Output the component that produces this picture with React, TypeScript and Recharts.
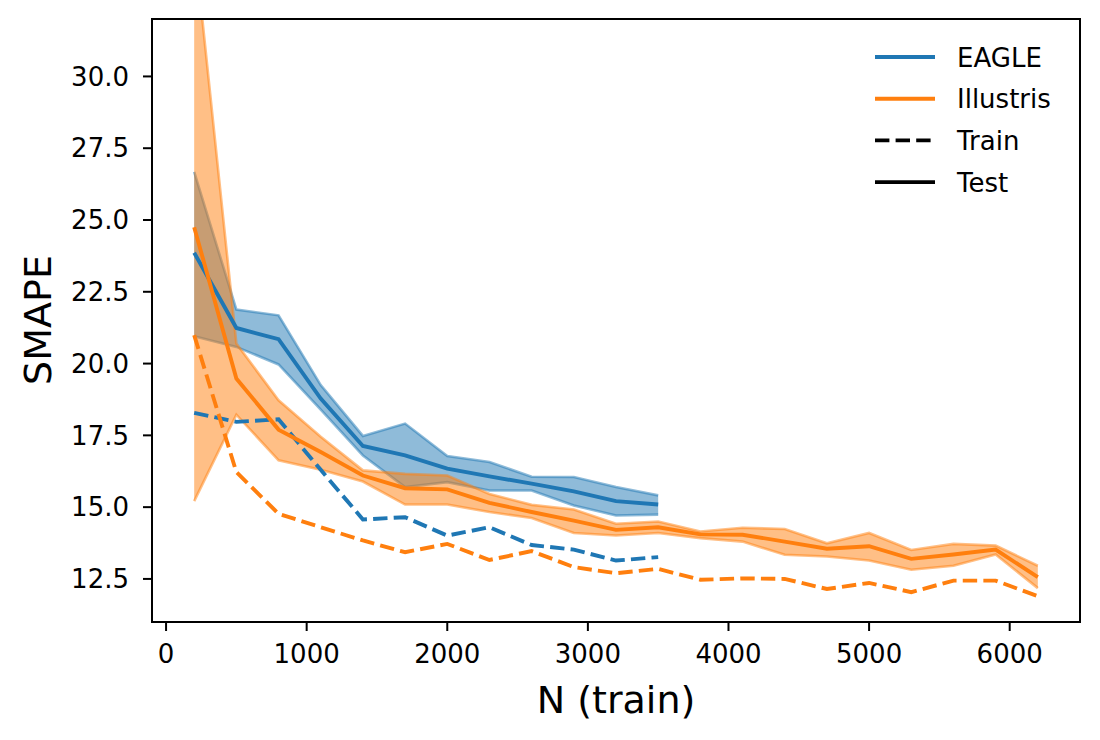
import React from "react";
import { ComposedChart, Area, Line, XAxis, YAxis, Label, ReferenceArea } from "recharts";

const nTrain = [200, 500, 800, 1100, 1400, 1700, 2000, 2300, 2600, 2900, 3200, 3500, 3800, 4100, 4400, 4700, 5000, 5300, 5600, 5900, 6200];

// EAGLE stops at 3500
const eagleTest = [23.86, 21.24, 20.85, 18.78, 17.13, 16.8, 16.34, 16.07, 15.82, 15.55, 15.21, 15.09];
const eagleTestHi = [26.68, 21.88, 21.68, 19.25, 17.48, 17.91, 16.78, 16.57, 16.06, 16.05, 15.7, 15.41];
const eagleTestLo = [20.95, 20.58, 19.97, 18.4, 16.8, 15.7, 15.87, 15.58, 15.58, 15.06, 14.71, 14.74];
const eagleTrain = [18.28, 17.97, 18.06, 16.3, 14.57, 14.65, 14.01, 14.3, 13.68, 13.52, 13.14, 13.26];

const illustrisTest = [24.75, 19.48, 17.7, 16.92, 16.1, 15.66, 15.62, 15.15, 14.83, 14.53, 14.21, 14.3, 14.05, 14.04, 13.8, 13.55, 13.64, 13.2, 13.35, 13.52, 12.56];
const illustrisTestHi = [34.7, 20.7, 18.72, 17.45, 16.28, 16.16, 16.1, 15.46, 15.08, 14.92, 14.42, 14.5, 14.15, 14.28, 14.24, 13.74, 14.1, 13.51, 13.72, 13.66, 12.96];
const illustrisTestLo = [15.21, 18.22, 16.63, 16.3, 15.89, 15.09, 15.09, 14.83, 14.62, 14.1, 14.01, 14.1, 13.92, 13.8, 13.34, 13.28, 13.14, 12.82, 12.96, 13.35, 12.18];
const illustrisTrain = [20.99, 16.22, 14.77, 14.3, 13.84, 13.43, 13.72, 13.16, 13.47, 12.91, 12.7, 12.85, 12.47, 12.52, 12.5, 12.15, 12.36, 12.04, 12.44, 12.44, 11.9];

const xTicks = [0, 1000, 2000, 3000, 4000, 5000, 6000];
const yTicks = [12.5, 15, 17.5, 20, 22.5, 25, 27.5, 30];
const xDomain = [-100, 6500];
const yDomain = [11, 32];

const BLUE = "#1f77b4";
const ORANGE = "#ff7f0e";
const FONT = "'DejaVu Sans', sans-serif";

const legendItems = [
  { label: "EAGLE", color: BLUE, dashed: false },
  { label: "Illustris", color: ORANGE, dashed: false },
  { label: "Train", color: "#000", dashed: true },
  { label: "Test", color: "#000", dashed: false },
];

const data = nTrain.map((n, i) => ({
  n,
  eagleTest: eagleTest[i],
  eagleTrain: eagleTrain[i],
  eagleBand: i < eagleTest.length ? [eagleTestLo[i], eagleTestHi[i]] : undefined,
  illustrisTest: illustrisTest[i],
  illustrisTrain: illustrisTrain[i],
  illustrisBand: [illustrisTestLo[i], illustrisTestHi[i]],
}));

const dash = "14.4 6.2";
const lineW = 3.9;
const tickStyle = { fill: "#000", fontSize: 26, fontFamily: FONT };
const axisStroke = { stroke: "#000", strokeWidth: 2 };

const App = () => {
  return (
    <div style={{ position: "absolute", left: 0, top: 0, width: 1100, height: 740, background: "#fff", fontFamily: FONT }}>
      <ComposedChart width={1100} height={740} data={data} margin={{ top: 19, right: 20, bottom: 0, left: 0 }}>
        <XAxis
          dataKey="n"
          type="number"
          domain={xDomain}
          allowDataOverflow
          ticks={xTicks}
          interval={0}
          height={118}
          tick={tickStyle}
          tickSize={9}
          tickMargin={14}
          tickLine={axisStroke}
          axisLine={axisStroke}
        >
          <Label value="N (train)" position="insideBottom" offset={27} style={{ fill: "#000", fontSize: 38, fontFamily: FONT }} />
        </XAxis>
        <YAxis
          type="number"
          domain={yDomain}
          allowDataOverflow
          ticks={yTicks}
          interval={0}
          width={152}
          tick={tickStyle}
          tickSize={9}
          tickMargin={14}
          tickLine={axisStroke}
          axisLine={axisStroke}
          tickFormatter={(v: number) => v.toFixed(1)}
        >
          <Label
            content={() => (
              <text x={51} y={320} transform="rotate(-90 51 320)" textAnchor="middle" fill="#000" fontSize={38} fontFamily={FONT}>
                SMAPE
              </text>
            )}
          />
        </YAxis>

        <Area dataKey="eagleBand" type="linear" fill={BLUE} fillOpacity={0.5} stroke={BLUE} strokeOpacity={0.5} strokeWidth={2.6} dot={false} activeDot={false} isAnimationActive={false} />
        <Area dataKey="illustrisBand" type="linear" fill={ORANGE} fillOpacity={0.5} stroke={ORANGE} strokeOpacity={0.5} strokeWidth={2.6} dot={false} activeDot={false} isAnimationActive={false} />

        <Line dataKey="eagleTest" type="linear" stroke={BLUE} strokeWidth={lineW} dot={false} activeDot={false} isAnimationActive={false} />
        <Line dataKey="eagleTrain" type="linear" stroke={BLUE} strokeWidth={lineW} strokeDasharray={dash} dot={false} activeDot={false} isAnimationActive={false} />
        <Line dataKey="illustrisTest" type="linear" stroke={ORANGE} strokeWidth={lineW} dot={false} activeDot={false} isAnimationActive={false} />
        <Line dataKey="illustrisTrain" type="linear" stroke={ORANGE} strokeWidth={lineW} strokeDasharray={dash} dot={false} activeDot={false} isAnimationActive={false} />

        {/* plot frame (matplotlib spines) */}
        <ReferenceArea x1={xDomain[0]} x2={xDomain[1]} y1={yDomain[0]} y2={yDomain[1]} fill="none" fillOpacity={0} stroke="#000" strokeWidth={2} ifOverflow="extendDomain" />
      </ComposedChart>

      <svg width={1100} height={740} style={{ position: "absolute", left: 0, top: 0, pointerEvents: "none" }}>
        {legendItems.map((item, i) => {
          const y = 57 + i * 41.7;
          return (
            <g key={item.label}>
              <line x1={875} x2={935} y1={y} y2={y} stroke={item.color} strokeWidth={lineW} strokeDasharray={item.dashed ? dash : undefined} />
              <text x={957} y={y + 9.5} fontSize={26} fontFamily={FONT} fill="#000">
                {item.label}
              </text>
            </g>
          );
        })}
      </svg>
    </div>
  );
};

export default App;
